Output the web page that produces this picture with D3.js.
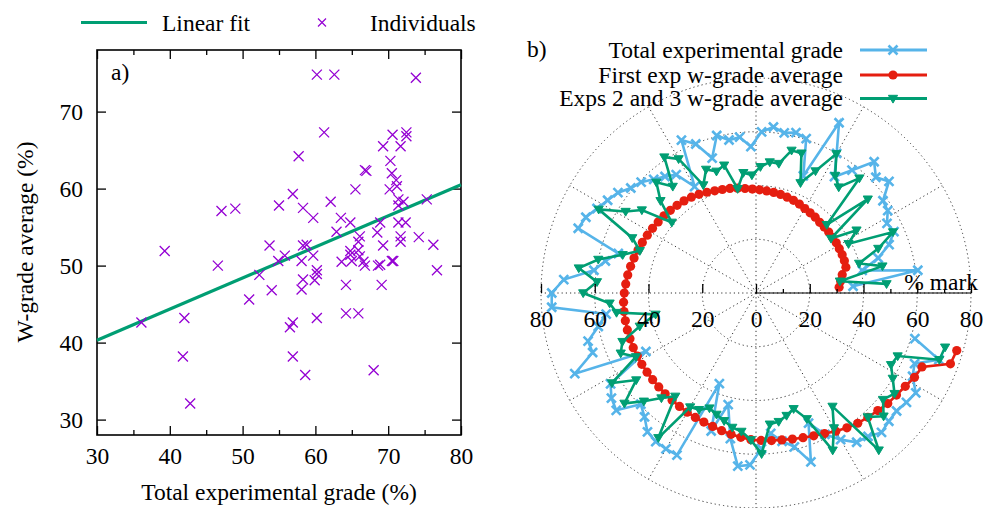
<!DOCTYPE html>
<html>
<head>
<meta charset="utf-8">
<script src="https://cdn.jsdelivr.net/npm/d3@7"></script>
<style>
  body { margin: 0; background: #fff; }
  text { font-family: "Liberation Serif", "Times New Roman", serif; font-size: 23.5px; fill: #000; }
</style>
</head>
<body>
<script>
// ---- panel a) data ----
var indivX = [36.1, 39.3, 42.0, 41.8, 42.8, 46.6, 47.1, 49.0, 50.9, 52.3, 53.7, 54.0, 54.9, 55.0, 55.8,
  56.9, 56.9, 56.5, 56.9, 57.7, 58.3, 58.3, 58.8, 58.1, 58.3, 58.1, 58.6, 59.7, 59.7, 59.9,
  60.2, 60.2, 60.2, 61.2, 62.6, 62.1, 62.9, 63.5, 63.6, 64.2, 64.2, 64.8, 64.8, 64.8, 65.0,
  65.5, 65.9, 65.9, 65.9, 66.1, 66.1, 66.6, 66.8, 66.8, 67.0, 68.0, 68.5, 68.6, 68.9, 69.1,
  69.3, 69.3, 70.2, 70.3, 70.5, 70.5, 70.6, 70.7, 71.1, 71.2, 71.4, 71.4, 71.4, 71.7, 71.7,
  71.7, 72.1, 72.4, 72.5, 72.5, 73.8, 74.2, 75.3, 76.2, 76.7, 60.2, 68.9];
var indivY = [42.6, 51.9, 43.2, 38.2, 32.1, 50.0, 57.1, 57.4, 45.6, 48.8, 52.6, 46.8, 50.6, 57.8, 51.3,
  59.3, 42.6, 42.0, 38.2, 64.2, 57.5, 52.6, 52.7, 50.6, 48.2, 46.9, 35.8, 56.2, 51.3, 48.1,
  49.4, 43.2, 74.8, 67.3, 74.8, 58.3, 54.4, 56.2, 50.5, 47.5, 43.8, 55.6, 51.4, 51.9, 50.6,
  59.9, 52.0, 53.1, 43.8, 53.8, 51.2, 50.5, 50.0, 62.4, 62.3, 36.4, 54.3, 50.0, 55.6, 47.5,
  52.6, 65.5, 59.9, 63.6, 62.0, 50.6, 67.0, 50.6, 61.1, 60.3, 58.6, 57.8, 55.6, 65.5, 53.8,
  53.1, 58.3, 55.6, 67.3, 66.8, 74.4, 53.7, 58.6, 52.7, 49.4, 48.9, 50.1];
var fitX = [30, 80];
var fitY = [40.3, 60.5];
var xTicks = [30, 40, 50, 60, 70, 80];
var xMinor = [35, 45, 55, 65, 75];
var yTicks = [30, 40, 50, 60, 70];

// ---- panel b) data, one value per student, sorted by first exp ----
var totalGrade = [36.2, 60.8, 40.4, 47.3, 52.7, 56.2, 55.2, 57.8, 58.4, 64.6, 62.0, 65.7,
  58.0, 52.2, 60.0, 70.5, 47.0, 60.4, 61.5, 60.5, 62.1, 60.0, 54.5, 58.3,
  57.8, 60.4, 52.8, 59.8, 63.3, 45.7, 53.1, 55.0, 56.9, 59.4, 60.8, 63.5,
  65.1, 67.0, 69.3, 70.4, 53.3, 57.3, 60.9, 71.7, 76.0, 76.2, 56.3, 60.0,
  65.0, 64.7, 73.8, 46.4, 63.8, 66.5, 67.9, 59.6, 62.0, 65.6, 66.7, 67.0,
  67.1, 36.4, 54.0, 42.8, 55.0, 64.8, 64.0, 58.0, 52.5, 56.0, 59.0, 66.1,
  52.2, 58.5, 63.0, 67.0, 67.7, 69.8, 68.7, 68.3, 69.2, 70.1, 66.0, 64.6,
  72.4, 61.5];
var firstExp = [31.0, 31.8, 32.8, 34.8, 35.0, 35.1, 35.1, 35.2, 35.2, 35.3, 35.3, 35.4,
  35.8, 36.0, 36.3, 36.8, 37.2, 37.5, 37.8, 38.0, 38.2, 38.4, 38.7, 39.1,
  39.6, 40.1, 40.5, 41.0, 41.7, 42.4, 43.0, 43.5, 43.9, 44.3, 44.7, 45.0,
  45.4, 45.8, 46.3, 46.7, 47.2, 47.7, 48.2, 48.6, 49.0, 49.4, 49.6, 49.7,
  49.8, 49.9, 50.0, 50.0, 50.1, 50.1, 50.2, 50.3, 50.5, 50.7, 50.9, 51.2,
  51.5, 51.8, 52.2, 52.8, 53.4, 54.0, 54.6, 54.9, 55.2, 55.5, 56.0, 56.6,
  57.3, 58.2, 59.4, 60.5, 61.5, 62.2, 63.0, 64.0, 64.6, 65.5, 66.8, 67.6,
  77.0, 77.7];
var exps23 = [48.7, 31.5, 48.1, 39.9, 48.4, 55.8, 39.0, 44.1, 34.5, 54.3, 36.6, 57.5,
  50.0, 52.7, 59.8, 50.5, 44.2, 54.7, 54.7, 48.9, 49.0, 47.0, 43.9, 45.0,
  39.4, 49.0, 47.6, 49.6, 44.7, 57.6, 61.0, 50.3, 55.4, 49.4, 40.9, 52.5,
  57.2, 66.3, 50.4, 46.0, 51.6, 60.0, 66.6, 59.3, 64.3, 54.6, 52.4, 38.2,
  45.0, 52.9, 55.1, 50.6, 63.2, 55.1, 63.9, 58.0, 52.6, 48.8, 65.0, 49.0,
  48.3, 46.2, 47.5, 49.0, 50.8, 51.8, 54.7, 59.9, 49.1, 48.6, 47.0, 45.3,
  50.5, 65.1, 58.0, 50.9, 74.2, 62.1, 66.0, 61.7, 63.7, 60.0, 56.9, 57.7,
  72.6, 73.2];
var rTicks = [20, 40, 60, 80];
var rMinor = [10, 30, 50, 70];
var seriesNames = ["Total experimental grade", "First exp w-grade average", "Exps 2 and 3 w-grade average"];
var seriesColors = ["#56b4e9", "#e51e10", "#009e73"];

var svg = d3.select("body").append("svg")
  .attr("width", 988)
  .attr("height", 508);

// ================= panel a =================
var x = d3.scaleLinear().domain([30, 80]).range([97, 461]);
var y = d3.scaleLinear().domain([28, 78]).range([435, 50]);

function styleAxis(g) {
  g.select(".domain").remove();
  g.selectAll("line").attr("stroke", "#000").attr("stroke-width", 1.3);
  g.selectAll("text").attr("font-size", null).attr("font-family", null);
}

svg.append("g").attr("transform", "translate(0,435)")
  .call(d3.axisBottom(x).tickValues(xTicks).tickSizeInner(-9).tickSizeOuter(0).tickPadding(12))
  .call(styleAxis);
svg.append("g").attr("transform", "translate(0,435)")
  .call(d3.axisBottom(x).tickValues(xMinor).tickSize(-5).tickFormat(""))
  .call(styleAxis);
svg.append("g").attr("transform", "translate(0,50)")
  .call(d3.axisTop(x).tickValues(xTicks).tickSize(-9).tickFormat(""))
  .call(styleAxis);
svg.append("g").attr("transform", "translate(0,50)")
  .call(d3.axisTop(x).tickValues(xMinor).tickSize(-5).tickFormat(""))
  .call(styleAxis);
svg.append("g").attr("transform", "translate(97,0)")
  .call(d3.axisLeft(y).tickValues(yTicks).tickSizeInner(-9).tickSizeOuter(0).tickPadding(14))
  .call(styleAxis);
svg.append("g").attr("transform", "translate(461,0)")
  .call(d3.axisRight(y).tickValues(yTicks).tickSize(-9).tickFormat(""))
  .call(styleAxis);

svg.append("rect")
  .attr("x", 97).attr("y", 50)
  .attr("width", 461 - 97).attr("height", 435 - 50)
  .attr("fill", "none").attr("stroke", "#000").attr("stroke-width", 1.6);

// linear fit
var fitLine = d3.line().x(function(d, i) { return x(fitX[i]); }).y(function(d, i) { return y(fitY[i]); });
svg.append("path").datum(fitX)
  .attr("d", fitLine)
  .attr("fill", "none").attr("stroke", "#009e73").attr("stroke-width", 3.2);

// individuals
var cross = "M-5,-5L5,5M-5,5L5,-5";
svg.append("g").selectAll("path")
  .data(indivX)
  .enter().append("path")
  .attr("d", cross)
  .attr("transform", function(d, i) { return "translate(" + x(d) + "," + y(indivY[i]) + ")"; })
  .attr("fill", "none").attr("stroke", "#9400d3").attr("stroke-width", 1.3);

svg.append("text").attr("x", 111).attr("y", 80).text("a)");

svg.append("text")
  .attr("x", 279).attr("y", 500)
  .attr("text-anchor", "middle")
  .text("Total experimental grade (%)");
svg.append("text")
  .attr("transform", "translate(33,242) rotate(-90)")
  .attr("text-anchor", "middle")
  .text("W-grade average (%)");

// legend a
svg.append("line").attr("x1", 81).attr("x2", 147).attr("y1", 22.5).attr("y2", 22.5)
  .attr("stroke", "#009e73").attr("stroke-width", 3.2);
svg.append("text").attr("x", 162).attr("y", 31).text("Linear fit");
svg.append("path").attr("d", "M-4,-4L4,4M-4,4L4,-4")
  .attr("transform", "translate(322,22.5)")
  .attr("fill", "none").attr("stroke", "#9400d3").attr("stroke-width", 1.2);
svg.append("text").attr("x", 370).attr("y", 31).text("Individuals");

// ================= panel b =================
var cx = 756, cy = 293;
var r = d3.scaleLinear().domain([0, 80]).range([0, 215]);
// student index -> angle (counter-clockwise from the +x axis, 4 degrees per student)
var theta = d3.scaleLinear().domain([0, 90]).range([0, 2 * Math.PI]);
function ang(i) { return Math.PI / 2 - theta(i + 1); }

var pg = svg.append("g").attr("transform", "translate(" + cx + "," + cy + ")");

// grid
pg.selectAll("circle.grid")
  .data(rTicks)
  .enter().append("circle")
  .attr("class", "grid")
  .attr("r", function(d) { return r(d); })
  .attr("fill", "none").attr("stroke", "#333").attr("stroke-width", 1)
  .attr("stroke-dasharray", "1.2,3");
pg.selectAll("line.spoke")
  .data(d3.range(0, 360, 30))
  .enter().append("line")
  .attr("class", "spoke")
  .attr("x1", 0).attr("y1", 0)
  .attr("x2", function(d) { return d3.pointRadial(Math.PI / 2 - d * Math.PI / 180, r(80))[0]; })
  .attr("y2", function(d) { return d3.pointRadial(Math.PI / 2 - d * Math.PI / 180, r(80))[1]; })
  .attr("stroke", "#333").attr("stroke-width", 1)
  .attr("stroke-dasharray", "1.2,3");

// radial axis
var ax = d3.scaleLinear().domain([-80, 80]).range([cx - r(80), cx + r(80)]);
svg.append("g").attr("transform", "translate(0," + cy + ")")
  .call(d3.axisBottom(ax).tickValues([-80, -60, -40, -20, 0, 20, 40, 60, 80])
    .tickFormat(function(d) { return Math.abs(d); })
    .tickSizeInner(-9).tickSizeOuter(0).tickPadding(17))
  .call(styleAxis);
svg.append("g").attr("transform", "translate(0," + cy + ")")
  .call(d3.axisBottom(ax).tickValues(rMinor).tickSize(-4).tickFormat(""))
  .call(styleAxis);
svg.append("line").attr("x1", cx).attr("x2", cx + r(80)).attr("y1", cy).attr("y2", cy)
  .attr("stroke", "#000").attr("stroke-width", 1.2);
svg.append("text").attr("x", 978).attr("y", 290).attr("text-anchor", "end").text("% mark");

// series
var radial = d3.lineRadial()
  .angle(function(d, i) { return ang(i); })
  .radius(function(d) { return r(d); });

var tri = "M-4.6,-3.2L4.6,-3.2L0,4.6Z";

function drawSeries(vals, color, kind) {
  pg.append("path").datum(vals)
    .attr("d", radial)
    .attr("fill", "none").attr("stroke", color).attr("stroke-width", 2.6)
    .attr("stroke-linejoin", "miter");
  var m = pg.append("g").selectAll("path")
    .data(vals)
    .enter();
  if (kind === "dot") {
    m.append("circle")
      .attr("cx", function(d, i) { return d3.pointRadial(ang(i), r(d))[0]; })
      .attr("cy", function(d, i) { return d3.pointRadial(ang(i), r(d))[1]; })
      .attr("r", 4.6).attr("fill", color);
  } else {
    m.append("path")
      .attr("d", kind === "cross" ? "M-4.5,-4.5L4.5,4.5M-4.5,4.5L4.5,-4.5" : tri)
      .attr("transform", function(d, i) {
        var p = d3.pointRadial(ang(i), r(d));
        return "translate(" + p[0] + "," + p[1] + ")";
      })
      .attr("fill", kind === "cross" ? "none" : color)
      .attr("stroke", color).attr("stroke-width", kind === "cross" ? 2.6 : 1);
  }
}
drawSeries(totalGrade, seriesColors[0], "cross");
drawSeries(firstExp, seriesColors[1], "dot");
drawSeries(exps23, seriesColors[2], "tri");

// legend b
svg.append("text").attr("x", 527).attr("y", 57).text("b)");
var legY = [50, 75, 98.5];
var kinds = ["cross", "dot", "tri"];
seriesNames.forEach(function(name, k) {
  svg.append("text").attr("x", 843).attr("y", legY[k] + 7.5)
    .attr("text-anchor", "end").text(name);
  svg.append("line").attr("x1", 860).attr("x2", 927).attr("y1", legY[k]).attr("y2", legY[k])
    .attr("stroke", seriesColors[k]).attr("stroke-width", 3);
  if (kinds[k] === "dot") {
    svg.append("circle").attr("cx", 893).attr("cy", legY[k]).attr("r", 4.6).attr("fill", seriesColors[k]);
  } else {
    svg.append("path")
      .attr("d", kinds[k] === "cross" ? "M-4.5,-4.5L4.5,4.5M-4.5,4.5L4.5,-4.5" : tri)
      .attr("transform", "translate(893," + legY[k] + ")")
      .attr("fill", kinds[k] === "cross" ? "none" : seriesColors[k])
      .attr("stroke", seriesColors[k]).attr("stroke-width", kinds[k] === "cross" ? 2.6 : 1);
  }
});
</script>
</body>
</html>
